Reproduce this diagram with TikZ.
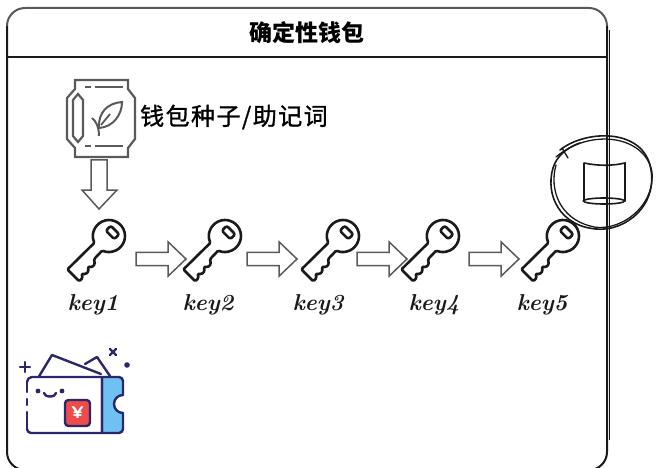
\documentclass[tikz,border=0pt]{standalone}
\usepackage{fontspec}
\newfontfamily\cjk{Noto Sans CJK SC}
\usetikzlibrary{calc}
\definecolor{ink}{HTML}{1A1A1A}
\definecolor{arrowgray}{HTML}{5A5A5A}
\definecolor{navy}{HTML}{2B2768}
\definecolor{panelblue}{HTML}{6EC1F0}
\definecolor{yenred}{HTML}{EE4B4B}
\tikzset{
  frameline/.style={draw=ink, line width=2},
  keyline/.style={draw=ink, line width=2.6, line join=round, line cap=round},
  hollowarrow/.style={draw=arrowgray, line width=1.5, fill=white, line join=miter},
  seedline/.style={draw=arrowgray, line width=2.2, line join=miter},
  walletline/.style={draw=navy, line width=2.4, line cap=round, line join=round},
  sketch/.style={draw=ink, line width=1.6, line cap=round},
  keylabel/.style={font=\bfseries\itshape\fontsize{23}{26}\selectfont, text=ink, anchor=base},
  pics/keyicon/.style={code={
    \begin{scope}[rotate=45]
      \draw[keyline, rounded corners=1.2]
        (159.9:16) arc[start angle=159.9, end angle=-159.9, radius=16]
        -- (-27,-5.8) -- (-30,-10) -- (-34,-10) -- (-36.5,-6.8)
        -- (-39.5,-10.5) -- (-43.5,-10.5) -- (-46,-7.3) -- (-48.5,-11)
        -- (-53,-11) -- (-53,5.8) -- cycle;
      \draw[keyline, rounded corners=2.2] (1.5,-6) rectangle (8.5,6);
    \end{scope}
  }}
}
\begin{document}
\begin{tikzpicture}[x=1pt,y=1pt]
\useasboundingbox (0,0) rectangle (656,-468);
\clip (0,0) rectangle (656,-468);

% outer frame
\draw[frameline] (7,-26) -- (7,-452) arc[start angle=180, end angle=270, radius=18] -- (589,-470)
  arc[start angle=270, end angle=360, radius=18] -- (607,-26);
\draw[line width=2, draw=black!65] (7,-26) arc[start angle=180, end angle=90, radius=18]
  -- (589,-8) arc[start angle=90, end angle=0, radius=18];
\draw[line width=0.8, draw=ink] (609,-30) -- (609,-440);
% title bar
\draw[line width=1.6, draw=ink] (7,-57) -- (607,-57);
\node (title) at (307,-33) {\cjk\bfseries\fontsize{23}{26}\selectfont 确定性钱包};

% seed packet
\begin{scope}[yscale=-1]
  \draw[seedline] (75,80) -- (128,80) -- (128,89) -- (135,98) -- (135,139) -- (128,148)
    -- (128,157) -- (75,157) -- (75,148) -- (67,139) -- (67,98) -- (75,89) -- cycle;
  \draw[seedline] (73,100) -- (78,94) -- (83,100) -- (83,136) -- (78,142) -- (73,136) -- cycle;
  \draw[seedline] (85,87) -- (91,87) (95,87) -- (123,87);
  \draw[seedline] (85,146) -- (91,146) (95,146) -- (123,146);
  \draw[seedline, line width=2] (99,128) .. controls (98,112) and (108,103) .. (122,102)
    .. controls (122,115) and (113,127) .. (99,128);
  \draw[seedline, line width=1.8] (101,125) -- (110,114);
  \draw[seedline, line width=2] (92,118) .. controls (96,121) and (99,127) .. (99,136);
\end{scope}
\coordinate (seed) at (101,-118);
\node[anchor=west, inner sep=0] (seedlabel) at (140,-117)
  {\cjk\fontsize{24}{26}\selectfont\addfontfeature{LetterSpace=6,FakeBold=1.2}钱包种子/助记词};

% keys and their labels
\foreach \i/\x/\lx in {1/109/93,2/225/208,3/343/318,4/443/434,5/563/542}{
  \coordinate (k\i) at (\x,-236);
  \pic at (k\i) {keyicon};
  \node[keylabel] (l\i) at (\lx,-310) {key\i};
}

% seed -> first key
\draw[hollowarrow] ($(seed)+(-10,-42)$) -- ++(16,0) -- ++(0,-30) -- ++(10,0)
  -- ++(-18,-19) -- ++(-17,19) -- ++(9,0) -- cycle;

% key -> key
\foreach \a/\off in {1/27,2/22,3/14,4/26}{
  \draw[hollowarrow] ($(k\a)+(\off,-16.3)$) -- ++(32,0) -- ++(0,10.5) -- ++(18,-17.2)
    -- ++(-18,-17.2) -- ++(0,10.5) -- ++(-32,0) -- cycle;
}

% wallet
\begin{scope}[yscale=-1]
  \draw[walletline] (38,378) -- (52,355) -- (101,374);
  \draw[walletline] (85,364) -- (97,357) -- (110,376);
  \fill[white] (27,377) rectangle (102,433);
  \draw[walletline, fill=panelblue] (102,377) -- (119,377) arc[start angle=270, end angle=360, radius=4]
    -- (123,395) arc[start angle=270, end angle=90, radius=9] -- (123,429)
    arc[start angle=0, end angle=90, radius=4] -- (102,433) -- cycle;
  \draw[walletline] (27,382) arc[start angle=180, end angle=270, radius=5] -- (102,377)
    -- (102,433) -- (31,433) arc[start angle=90, end angle=180, radius=4];
  \draw[walletline] (27,429) -- (27,412) (27,405) -- (27,399) (27,392) -- (27,382);
  \fill[navy] (38,391) circle (2.4) (62,391) circle (2.4);
  \draw[walletline] (44,393) arc[start angle=180, end angle=0, x radius=6, y radius=3.5];
  \draw[walletline, fill=yenred, rounded corners=3.5] (65,400) rectangle (90,426);
  \draw[walletline] (20,367) -- (30,367) (25,362) -- (25,372);
  \draw[walletline] (110,349) -- (116,355) (116,349) -- (110,355);
  \fill[navy] (127,365) circle (2.8);
\end{scope}
\node[text=white, font=\sffamily\bfseries\fontsize{17}{17}\selectfont] (yen) at (77.5,-413) {¥};

% hand-drawn badge on the right edge
\begin{scope}[yscale=-1]
  \draw[sketch] (560,150) .. controls (585,130) and (640,128) .. (650,165)
    .. controls (660,205) and (625,232) .. (596,229)
    .. controls (560,226) and (545,195) .. (553,168)
    .. controls (556,158) and (565,148) .. (580,143);
  \draw[sketch, line width=1.3] (556,157) .. controls (590,128) and (645,135) .. (652,172)
    .. controls (655,210) and (615,234) .. (590,226)
    .. controls (560,218) and (549,190) .. (556,165);
  \draw[sketch, line width=1.3] (562,148) -- (568,158);
  \draw[sketch] (584,163) .. controls (598,166) and (612,166) .. (625,163)
    -- (625,201) (584,163) -- (584,201);
  \draw[sketch] (604,201) ellipse [x radius=20.5, y radius=3];
\end{scope}
\end{tikzpicture}
\end{document}
